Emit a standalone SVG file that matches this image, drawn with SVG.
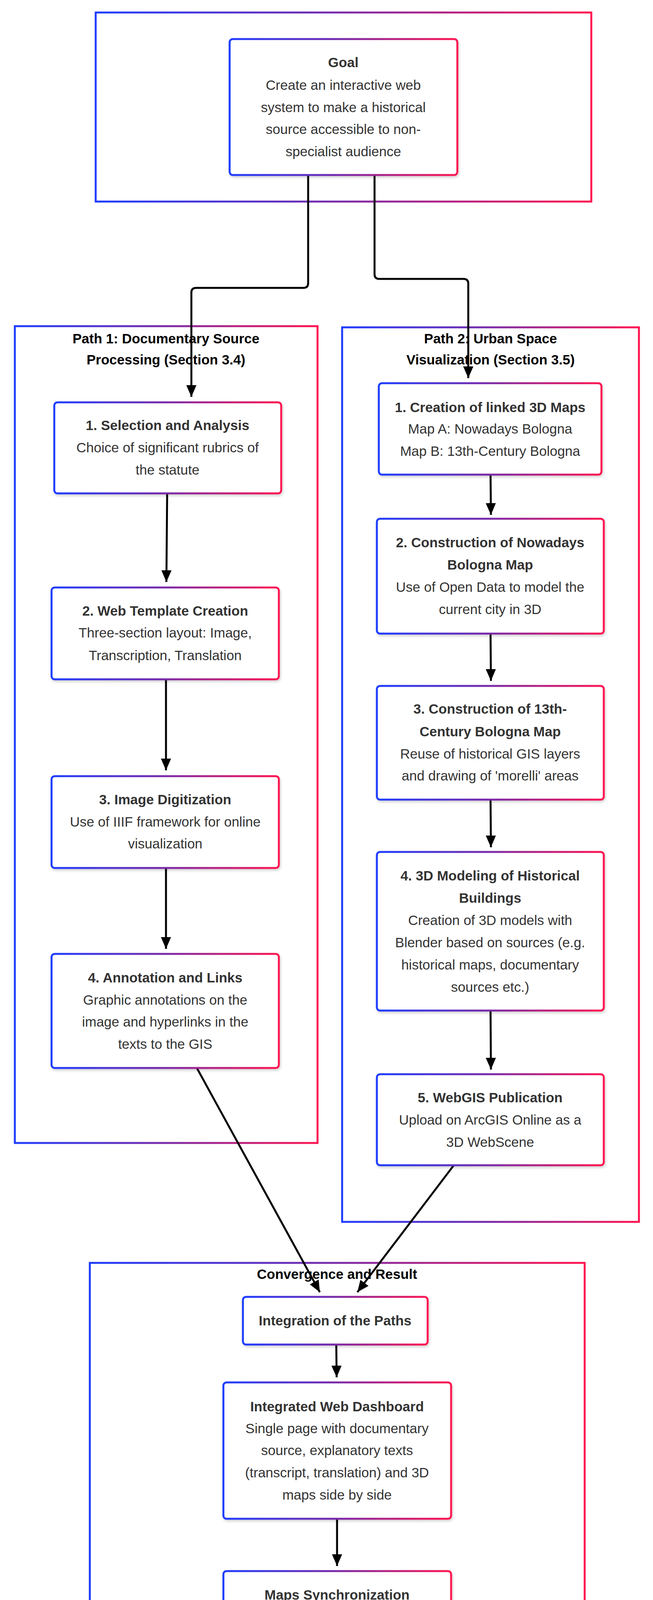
<svg xmlns="http://www.w3.org/2000/svg" width="1672" height="4860" viewBox="0 0 1672 4860">
<defs>
<linearGradient id="g" x1="0" y1="0" x2="1" y2="0">
<stop offset="0" stop-color="#1e3cff"/><stop offset="0.5" stop-color="#7a2aa8"/><stop offset="1" stop-color="#ff1450"/>
</linearGradient>
<filter id="sh" x="-5%" y="-5%" width="110%" height="115%"><feDropShadow dx="2" dy="4" stdDeviation="3" flood-opacity="0.18"/></filter>
<marker id="ar" markerUnits="userSpaceOnUse" markerWidth="30" markerHeight="32" refX="30" refY="13" orient="auto" viewBox="0 0 30 26"><path d="M0,0 L30,13 L0,26 Z" fill="#000"/></marker>
</defs>
<style>
.grp{fill:#fff;stroke:url(#g);stroke-width:5}
.nd{fill:#fff;stroke:url(#g);stroke-width:5;filter:url(#sh)}
text{font-family:"Liberation Sans",Arial,sans-serif;font-size:35px;fill:#333;text-anchor:middle}
.t{font-weight:bold}
.gt{font-weight:bold;fill:#000}
.c{fill:none;stroke:#000;stroke-width:5;marker-end:url(#ar)}
</style>
<rect width="1672" height="4860" fill="#fff"/>
<g id="clusters">
<rect class="grp" x="245" y="32" width="1269" height="484"/>
<rect class="grp" x="38" y="835" width="775" height="2091"/>
<rect class="grp" x="876" y="838" width="760" height="2290"/>
<rect class="grp" x="230" y="3233" width="1267" height="1594"/>
<text class="gt" x="425" y="879">Path 1: Documentary Source</text>
<text class="gt" x="425" y="933">Processing (Section 3.4)</text>
<text class="gt" x="1256" y="879">Path 2: Urban Space</text>
<text class="gt" x="1256" y="933">Visualization (Section 3.5)</text>
<text class="gt" x="863" y="3274">Convergence and Result</text>
</g>
<g id="connectors">
<path class="c" d="M789,448 V725 Q789,737 777,737 H502 Q490,737 490,749 V1016"/>
<path class="c" d="M959,448 V702 Q959,714 971,714 H1187 Q1199,714 1199,726 V968"/>
<path class="c" d="M428,1263 L426,1490"/>
<path class="c" d="M425,1739 L425,1972"/>
<path class="c" d="M425,2222 L425,2429"/>
<path class="c" d="M1256,1215 L1257,1318"/>
<path class="c" d="M1256,1622 L1257,1743"/>
<path class="c" d="M1256,2047 L1257,2169"/>
<path class="c" d="M1256,2587 L1257,2738"/>
<path class="c" d="M504,2734 L819,3308"/>
<path class="c" d="M1162,2983 L915,3308"/>
<path class="c" d="M861,3442 L862,3526"/>
<path class="c" d="M863,3888 L863,4009"/>
<path class="c" d="M863,4315 L863,4435"/>
</g>
<g id="goal">
<rect class="nd" x="588" y="100" width="583" height="348" rx="8"/>
<text class="t" x="879" y="172">Goal</text>
<text x="879" y="230">Create an interactive web</text>
<text x="879" y="287">system to make a historical</text>
<text x="879" y="343">source accessible to non-</text>
<text x="879" y="400">specialist audience</text>
</g>
<g id="p1n1">
<rect class="nd" x="139" y="1030" width="581" height="233" rx="8"/>
<text class="t" x="429" y="1101">1. Selection and Analysis</text>
<text x="429" y="1158">Choice of significant rubrics of</text>
<text x="429" y="1215">the statute</text>
</g>
<g id="p1n2">
<rect class="nd" x="132" y="1504" width="582" height="235" rx="8"/>
<text class="t" x="423" y="1576">2. Web Template Creation</text>
<text x="423" y="1632">Three-section layout: Image,</text>
<text x="423" y="1690">Transcription, Translation</text>
</g>
<g id="p1n3">
<rect class="nd" x="132" y="1987" width="582" height="235" rx="8"/>
<text class="t" x="423" y="2059">3. Image Digitization</text>
<text x="423" y="2116">Use of IIIF framework for online</text>
<text x="423" y="2172">visualization</text>
</g>
<g id="p1n4">
<rect class="nd" x="132" y="2442" width="582" height="292" rx="8"/>
<text class="t" x="423" y="2515">4. Annotation and Links</text>
<text x="423" y="2572">Graphic annotations on the</text>
<text x="423" y="2628">image and hyperlinks in the</text>
<text x="423" y="2685">texts to the GIS</text>
</g>
<g id="p2n1">
<rect class="nd" x="970" y="981" width="570" height="234" rx="8"/>
<text class="t" x="1255" y="1055">1. Creation of linked 3D Maps</text>
<text x="1255" y="1110">Map A: Nowadays Bologna</text>
<text x="1255" y="1167">Map B: 13th-Century Bologna</text>
</g>
<g id="p2n2">
<rect class="nd" x="965" y="1328" width="581" height="294" rx="8"/>
<text class="t" x="1255" y="1401">2. Construction of Nowadays</text>
<text class="t" x="1255" y="1458">Bologna Map</text>
<text x="1255" y="1515">Use of Open Data to model the</text>
<text x="1255" y="1572">current city in 3D</text>
</g>
<g id="p2n3">
<rect class="nd" x="965" y="1756" width="581" height="291" rx="8"/>
<text class="t" x="1255" y="1827">3. Construction of 13th-</text>
<text class="t" x="1255" y="1885">Century Bologna Map</text>
<text x="1255" y="1942">Reuse of historical GIS layers</text>
<text x="1255" y="1998">and drawing of 'morelli' areas</text>
</g>
<g id="p2n4">
<rect class="nd" x="965" y="2181" width="581" height="406" rx="8"/>
<text class="t" x="1255" y="2254">4. 3D Modeling of Historical</text>
<text class="t" x="1255" y="2311">Buildings</text>
<text x="1255" y="2368">Creation of 3D models with</text>
<text x="1255" y="2425">Blender based on sources (e.g.</text>
<text x="1255" y="2482">historical maps, documentary</text>
<text x="1255" y="2539">sources etc.)</text>
</g>
<g id="p2n5">
<rect class="nd" x="965" y="2750" width="581" height="233" rx="8"/>
<text class="t" x="1255" y="2822">5. WebGIS Publication</text>
<text x="1255" y="2879">Upload on ArcGIS Online as a</text>
<text x="1255" y="2936">3D WebScene</text>
</g>
<g id="integration">
<rect class="nd" x="622" y="3320" width="473" height="122" rx="8"/>
<text class="t" x="858" y="3393">Integration of the Paths</text>
</g>
<g id="dashboard">
<rect class="nd" x="572" y="3539" width="583" height="349" rx="8"/>
<text class="t" x="863" y="3613">Integrated Web Dashboard</text>
<text x="863" y="3669">Single page with documentary</text>
<text x="863" y="3725">source, explanatory texts</text>
<text x="863" y="3782">(transcript, translation) and 3D</text>
<text x="863" y="3839">maps side by side</text>
</g>
<g id="sync">
<rect class="nd" x="572" y="4022" width="583" height="293" rx="8"/>
<text class="t" x="863" y="4095">Maps Synchronization</text>
<text x="863" y="4152">Synchronized movements for</text>
<text x="863" y="4208">direct comparison of past and</text>
<text x="863" y="4265">present urban landscapes</text>
</g>
<g id="final">
<rect class="nd" x="572" y="4450" width="583" height="290" rx="8"/>
<text class="t" x="863" y="4521">Final Result</text>
<text x="863" y="4577">Educational-informative web</text>
<text x="863" y="4634">system for interactive</text>
<text x="863" y="4692">exploration</text>
</g>
</svg>
